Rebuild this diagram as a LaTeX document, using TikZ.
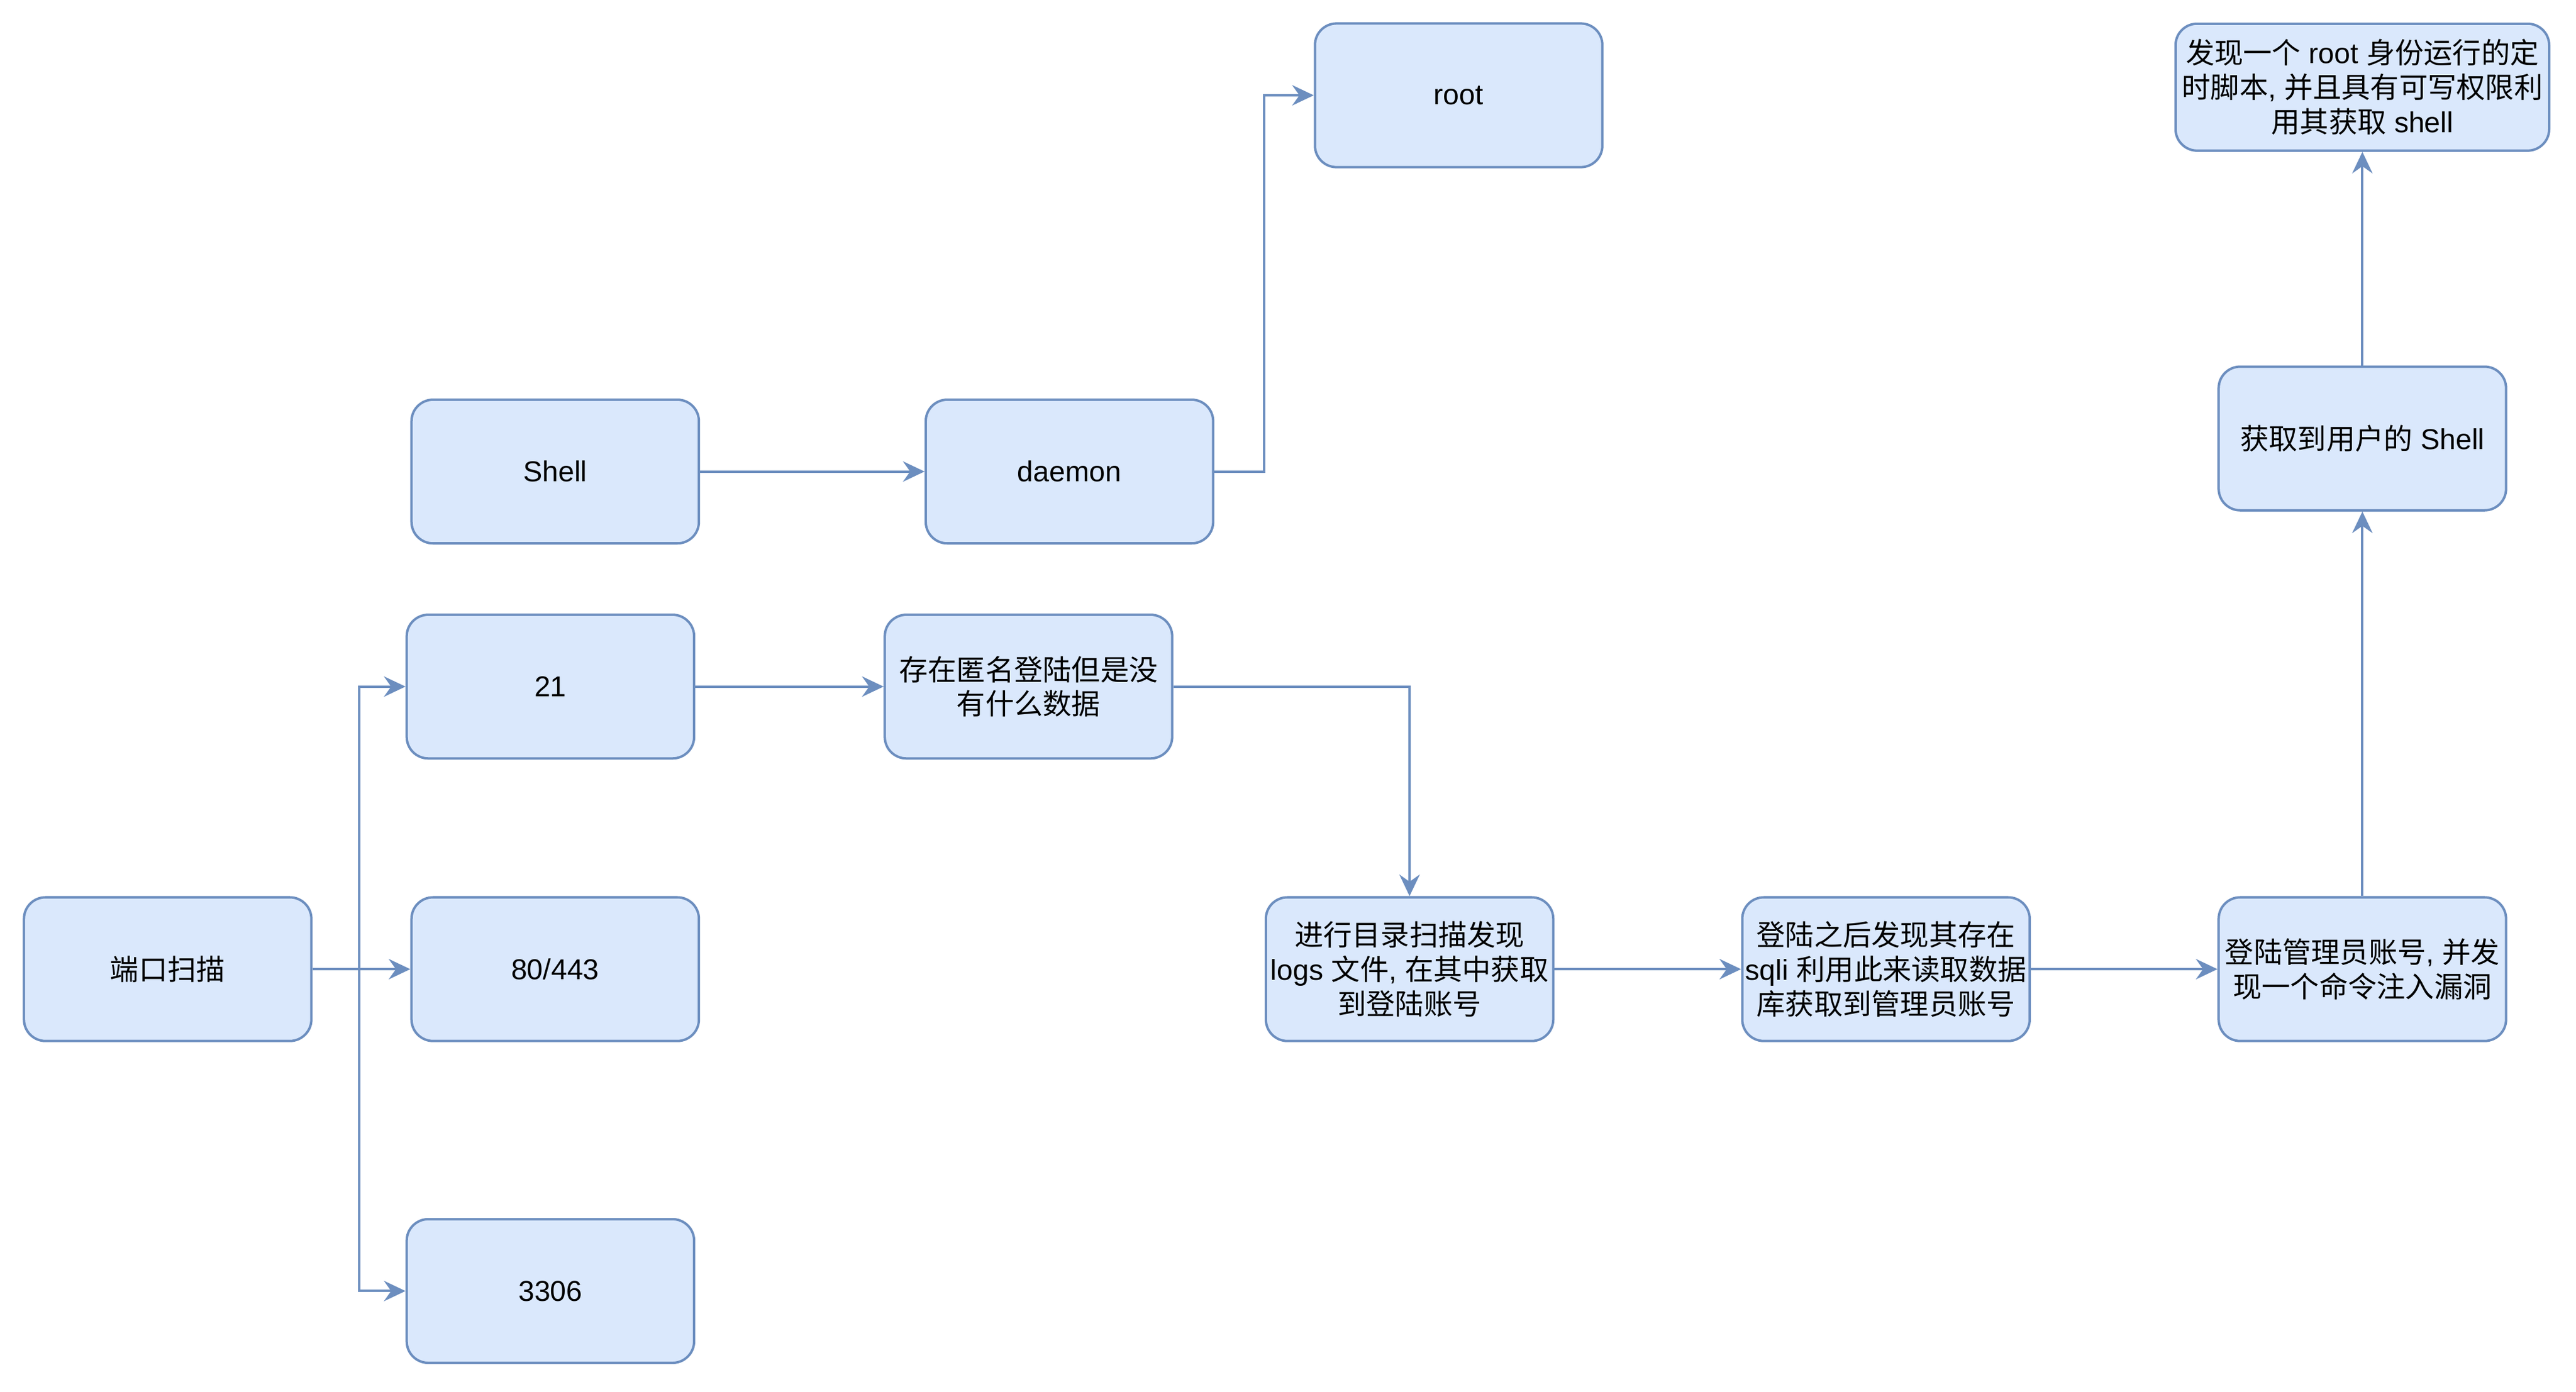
\documentclass[tikz,border=0pt]{standalone}
\usepackage{fontspec}
\setmainfont{Liberation Sans}
\newfontfamily\cjk{Noto Sans CJK SC}
\usetikzlibrary{arrows.meta}
\definecolor{boxfill}{HTML}{DAE8FC}
\definecolor{boxline}{HTML}{6C8EBF}
\newcommand\zh[1]{{\cjk #1}}
\tikzset{
  box/.style={draw=boxline, fill=boxfill, line width=1pt, rounded corners=9pt,
    minimum width=120pt, minimum height=60pt, inner sep=1pt, align=center,
    font=\fontsize{12}{14.4}\selectfont},
  arr/.style={draw=boxline, line width=1pt, -{Stealth[length=9pt,width=8.5pt,inset=3pt]}}
}
\begin{document}
\begin{tikzpicture}[x=1pt,y=-1pt]
\useasboundingbox (0,0) rectangle (1075.5,581.05);
\node[box] (root) at (609,39.8) {root};
\node[box] (shell) at (231.8,196.9) {Shell};
\node[box] (daemon) at (446.5,196.9) {daemon};
\node[box] (p21) at (229.8,286.7) {21};
\node[box] (anon) at (429.4,286.7) {\zh{存在匿名登陆但是没}\\\zh{有什么数据}};
\node[box] (scan) at (70,404.7) {\zh{端口扫描}};
\node[box] (p80) at (231.8,404.7) {80/443};
\node[box] (p3306) at (229.8,539.1) {3306};
\node[box] (dir) at (588.5,404.7) {\zh{进行目录扫描发现}\\logs \zh{文件}, \zh{在其中获取}\\\zh{到登陆账号}};
\node[box] (sqli) at (787.4,404.7) {\zh{登陆之后发现其存在}\\sqli \zh{利用此来读取数据}\\\zh{库获取到管理员账号}};
\node[box] (admin) at (986.3,404.7) {\zh{登陆管理员账号}, \zh{并发}\\\zh{现一个命令注入漏洞}};
\node[box] (user) at (986.3,183.1) {\zh{获取到用户的} Shell};
\node[box, minimum width=156pt, minimum height=53pt] (cron) at (986.3,36.4) {\zh{发现一个} root \zh{身份运行的定}\\\zh{时脚本}, \zh{并且具有可写权限利}\\\zh{用其获取} shell};
\coordinate (trunk) at (150,404.7);
\coordinate (bend) at (527.8,196.9);
\draw[arr] (scan.east) -- (trunk) |- (p21.west);
\draw[arr] (scan.east) -- (p80.west);
\draw[arr] (trunk) |- (p3306.west);
\draw[arr] (shell) -- (daemon);
\draw[arr] (daemon.east) -- (bend) |- (root.west);
\draw[arr] (p21) -- (anon);
\draw[arr] (anon.east) -| (dir.north);
\draw[arr] (dir) -- (sqli);
\draw[arr] (sqli) -- (admin);
\draw[arr] (admin) -- (user);
\draw[arr] (user) -- (cron);
\end{tikzpicture}
\end{document}
